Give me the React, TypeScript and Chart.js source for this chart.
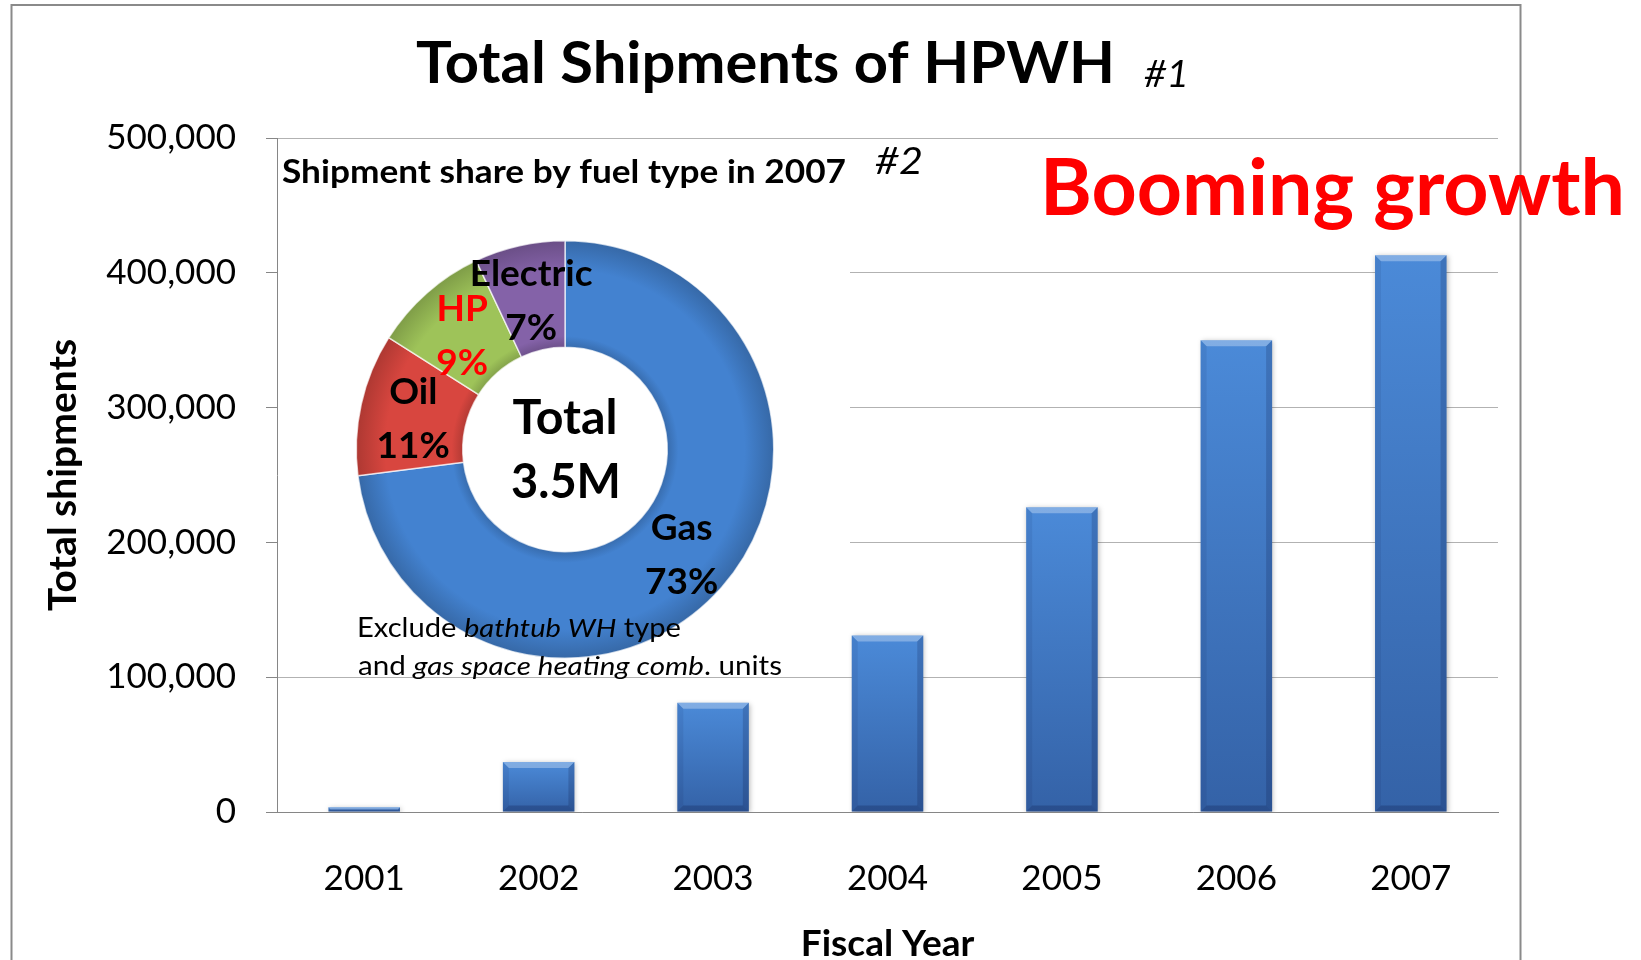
import React, { useEffect, useRef } from 'react';
import { Chart, registerables } from 'chart.js';

Chart.register(...registerables);

// ---------------- data ----------------
const years = ['2001', '2002', '2003', '2004', '2005', '2006', '2007'];
const shipments = [3500, 37000, 81000, 131000, 226000, 350000, 413000];
const yMin = 0;
const yMax = 500000;
const yStep = 100000;

const fuelLabels = ['Gas', 'Oil', 'HP', 'Electric'];
const fuelShares = [73, 11, 9, 7];

const chartTitle = 'Total Shipments of HPWH';
const titleNote = '#1';
const insetTitle = 'Shipment share by fuel type in 2007';
const insetNote = '#2';
const totalLabel = 'Total';
const totalValue = '3.5M';
const callout = 'Booming growth';
const xTitle = 'Fiscal Year';
const yTitle = 'Total shipments';

// ---------------- styles ----------------
const W = 1641;
const H = 960;
const FONT = "Lato, 'Open Sans', sans-serif";
const fuelColors = ['#4382d0', '#d8463f', '#9ec359', '#8462a8'];
const fuelLabelColors = ['#000000', '#000000', '#ff0000', '#000000'];

type Seg = { t: string; f: string };

function drawLine(
  ctx: CanvasRenderingContext2D,
  segs: Seg[],
  x: number,
  y: number,
  align: 'left' | 'center',
  color: string,
  targetW?: number
) {
  ctx.save();
  let w = 0;
  const ws = segs.map((s) => {
    ctx.font = s.f;
    const m = ctx.measureText(s.t).width;
    w += m;
    return m;
  });
  const sx = targetW && w > 0 ? targetW / w : 1;
  ctx.translate(x, y);
  ctx.scale(sx, 1);
  let cx = align === 'center' ? -w / 2 : 0;
  ctx.textAlign = 'left';
  ctx.textBaseline = 'alphabetic';
  ctx.fillStyle = color;
  segs.forEach((s, i) => {
    ctx.font = s.f;
    ctx.fillText(s.t, cx, 0);
    cx += ws[i];
  });
  ctx.restore();
}

function shade(hex: string, f: number): string {
  const n = parseInt(hex.slice(1), 16);
  const r = Math.round(((n >> 16) & 255) * f);
  const g = Math.round(((n >> 8) & 255) * f);
  const b = Math.round((n & 255) * f);
  return `rgb(${r},${g},${b})`;
}

const barDecor = {
  id: 'barDecor',
  beforeDraw(chart: any) {
    const ctx = chart.ctx;
    ctx.save();
    ctx.fillStyle = '#ffffff';
    ctx.fillRect(0, 0, chart.width, chart.height);
    ctx.restore();
  },
  beforeDatasetsDraw(chart: any) {
    const ctx = chart.ctx;
    // white backdrop of the inset doughnut picture
    ctx.save();
    ctx.fillStyle = '#ffffff';
    ctx.fillRect(278, 140, 572, 525);
    ctx.restore();
    ctx.save();
    ctx.shadowColor = 'rgba(0,0,0,0.28)';
    ctx.shadowBlur = 5;
    ctx.shadowOffsetX = 1;
    ctx.shadowOffsetY = 1;
  },
  afterDatasetsDraw(chart: any) {
    const ctx = chart.ctx;
    ctx.restore();
    const meta = chart.getDatasetMeta(0);
    meta.data.forEach((el: any) => {
      const { x, y, base, width } = el.getProps(['x', 'y', 'base', 'width'], true);
      if (![x, y, base, width].every((v) => Number.isFinite(v))) return;
      const l = x - width / 2;
      const r = x + width / 2;
      const t = Math.min(y, base);
      const btm = Math.max(y, base);
      const b = Math.min(6, (btm - t) / 2);
      const poly = (pts: number[][], fill: any) => {
        ctx.beginPath();
        ctx.moveTo(pts[0][0], pts[0][1]);
        for (let i = 1; i < pts.length; i++) ctx.lineTo(pts[i][0], pts[i][1]);
        ctx.closePath();
        ctx.fillStyle = fill;
        ctx.fill();
      };
      ctx.save();
      poly([[l, t], [r, t], [r - b, t + b], [l + b, t + b]], 'rgba(255,255,255,0.3)');
      poly([[r, t], [r, btm], [r - b, btm - b], [r - b, t + b]], 'rgba(0,0,40,0.16)');
      poly([[l, t], [l + b, t + b], [l + b, btm - b], [l, btm]], 'rgba(0,0,40,0.07)');
      poly([[l, btm], [l + b, btm - b], [r - b, btm - b], [r, btm]], 'rgba(0,0,40,0.2)');
      ctx.restore();
    });
  },
  afterDraw(chart: any) {
    const ctx = chart.ctx;
    // slide frame
    ctx.save();
    ctx.strokeStyle = '#8a8a8a';
    ctx.lineWidth = 2;
    ctx.strokeRect(11.5, 5, 1509, 1000);
    ctx.restore();
    drawLine(ctx, [{ t: chartTitle, f: `bold 57px ${FONT}` }], 765.5, 83, 'center', '#000000', 699);
    drawLine(ctx, [{ t: titleNote, f: `italic 37px ${FONT}` }], 1144, 87, 'left', '#000000', 45);
    drawLine(ctx, [{ t: callout, f: `bold 78px ${FONT}` }], 1040, 215, 'left', '#ff0000', 585);
  },
};

const pieDecor = {
  id: 'pieDecor',
  afterDatasetsDraw(chart: any) {
    const ctx = chart.ctx;
    const meta = chart.getDatasetMeta(0);
    meta.data.forEach((arc: any, i: number) => {
      const p = arc.tooltipPosition(true);
      if (!Number.isFinite(p.x) || !Number.isFinite(p.y)) return;
      const f = `bold 37px ${FONT}`;
      drawLine(ctx, [{ t: fuelLabels[i], f }], p.x, p.y - 12, 'center', fuelLabelColors[i]);
      drawLine(ctx, [{ t: `${fuelShares[i]}%`, f }], p.x, p.y + 42, 'center', fuelLabelColors[i]);
    });
    const a = chart.chartArea;
    const cx = (a.left + a.right) / 2;
    const cy = (a.top + a.bottom) / 2;
    drawLine(ctx, [{ t: totalLabel, f: `bold 47px ${FONT}` }], cx, cy - 16, 'center', '#000000', 105);
    drawLine(ctx, [{ t: totalValue, f: `bold 47px ${FONT}` }], cx + 1, cy + 48, 'center', '#000000', 110);

    drawLine(ctx, [{ t: insetTitle, f: `bold 33px ${FONT}` }], 282, 183, 'left', '#000000', 564);
    drawLine(ctx, [{ t: insetNote, f: `italic 37px ${FONT}` }], 875, 174, 'left', '#000000', 48);

    const reg = `26px ${FONT}`;
    const ita = `italic 26px ${FONT}`;
    drawLine(
      ctx,
      [
        { t: 'Exclude ', f: reg },
        { t: 'bathtub WH', f: ita },
        { t: ' type', f: reg },
      ],
      357,
      637,
      'left',
      '#000000',
      324
    );
    drawLine(
      ctx,
      [
        { t: 'and ', f: reg },
        { t: 'gas space heating comb', f: ita },
        { t: '. units', f: reg },
      ],
      358,
      675,
      'left',
      '#000000',
      424
    );
  },
};

export default function App() {
  const barRef = useRef<HTMLCanvasElement>(null);
  const pieRef = useRef<HTMLCanvasElement>(null);

  useEffect(() => {
    const barChart = new Chart(barRef.current as HTMLCanvasElement, {
      type: 'bar',
      data: {
        labels: years,
        datasets: [
          {
            label: yTitle,
            data: shipments,
            backgroundColor: (c: any) => {
              const chart = c.chart;
              const ys = chart.scales && chart.scales.y;
              if (!ys || c.raw === undefined || !chart.chartArea) return '#3f78c4';
              const top = ys.getPixelForValue(c.raw);
              const bot = ys.getPixelForValue(0);
              if (!Number.isFinite(top) || !Number.isFinite(bot)) return '#3f78c4';
              const g = chart.ctx.createLinearGradient(0, top, 0, bot);
              g.addColorStop(0, '#4b8ad8');
              g.addColorStop(1, '#3462a7');
              return g;
            },
            borderWidth: 0,
            barPercentage: 0.41,
            categoryPercentage: 1.0,
          },
        ],
      },
      options: {
        responsive: false,
        animation: false,
        devicePixelRatio: 1,
        events: [],
        layout: { padding: { left: 0, right: 143, top: 138, bottom: 0 } },
        plugins: {
          legend: { display: false },
          tooltip: { enabled: false },
          title: { display: false },
        },
        scales: {
          x: {
            type: 'category',
            grid: { display: false },
            border: { display: true, color: '#868686', width: 1 },
            ticks: {
              color: '#000000',
              padding: 38,
              font: { family: FONT, size: 35 },
            },
            title: {
              display: true,
              text: xTitle,
              color: '#000000',
              font: { family: FONT, size: 37, weight: 'bold', lineHeight: 0.85 },
              padding: { top: 0, bottom: 0 },
            },
            afterFit: (s: any) => {
              s.height = 148;
            },
          },
          y: {
            min: yMin,
            max: yMax,
            ticks: {
              stepSize: yStep,
              color: '#000000',
              padding: 30,
              font: { family: FONT, size: 35 },
              callback: (v: any) => Number(v).toLocaleString('en-US'),
            },
            grid: {
              color: '#b2b2b2',
              tickColor: '#868686',
              tickLength: 11,
              lineWidth: 1,
            },
            border: { display: true, color: '#868686', width: 1 },
            title: {
              display: true,
              text: yTitle,
              color: '#000000',
              font: { family: FONT, size: 39, weight: 'bold', lineHeight: 1 },
              padding: { top: 44, bottom: 0 },
            },
            afterFit: (s: any) => {
              s.width = 277;
            },
          },
        },
      } as any,
      plugins: [barDecor],
    });

    const pieChart = new Chart(pieRef.current as HTMLCanvasElement, {
      type: 'doughnut',
      data: {
        labels: fuelLabels,
        datasets: [
          {
            data: fuelShares,
            backgroundColor: (c: any) => {
              const base = fuelColors[c.dataIndex ?? 0] || fuelColors[0];
              const chart = c.chart;
              const a = chart.chartArea;
              if (!a) return base;
              const cx = (a.left + a.right) / 2;
              const cy = (a.top + a.bottom) / 2;
              const R = Math.min(a.right - a.left, a.bottom - a.top) / 2;
              if (![cx, cy, R].every((v) => Number.isFinite(v)) || R <= 0) return base;
              const g = chart.ctx.createRadialGradient(cx, cy, R * 0.49, cx, cy, R);
              g.addColorStop(0, shade(base, 0.84));
              g.addColorStop(0.1, base);
              g.addColorStop(0.72, base);
              g.addColorStop(1, shade(base, 0.8));
              return g;
            },
            borderColor: 'rgba(255,255,255,0.7)',
            borderWidth: 1.5,
          },
        ],
      },
      options: {
        responsive: false,
        animation: false,
        devicePixelRatio: 1,
        events: [],
        cutout: '49%',
        rotation: 0,
        layout: { padding: { left: 355, right: 866, top: 240, bottom: 301 } },
        plugins: {
          legend: { display: false },
          tooltip: { enabled: false },
        },
      } as any,
      plugins: [pieDecor],
    });

    return () => {
      barChart.destroy();
      pieChart.destroy();
    };
  }, []);

  return (
    <div
      style={{
        position: 'fixed',
        left: 0,
        top: 0,
        width: W,
        height: H,
        background: '#ffffff',
        overflow: 'hidden',
      }}
    >
      <canvas ref={barRef} width={W} height={H} style={{ position: 'absolute', left: 0, top: 0 }} />
      <canvas ref={pieRef} width={W} height={H} style={{ position: 'absolute', left: 0, top: 0 }} />
    </div>
  );
}
